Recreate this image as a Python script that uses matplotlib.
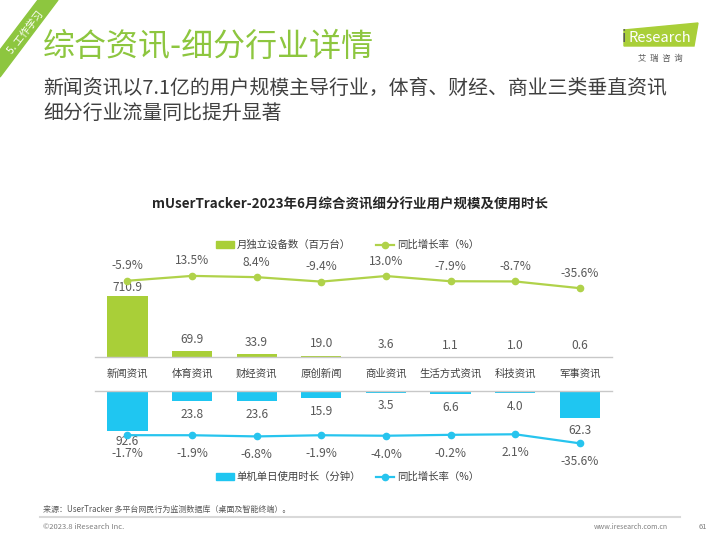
import matplotlib
matplotlib.use("Agg")
import matplotlib.pyplot as plt
from matplotlib.patches import Patch, Polygon
from matplotlib.lines import Line2D

plt.rcParams['font.family'] = ['Noto Sans CJK SC', 'DejaVu Sans']

# data
categories = ['新闻资讯', '体育资讯', '财经资讯', '原创新闻', '商业资讯', '生活方式资讯', '科技资讯', '军事资讯']
users = [710.9, 69.9, 33.9, 19.0, 3.6, 1.1, 1.0, 0.6]
users_yoy = [-5.9, 13.5, 8.4, -9.4, 13.0, -7.9, -8.7, -35.6]
minutes = [92.6, 23.8, 23.6, 15.9, 3.5, 6.6, 4.0, 62.3]
minutes_yoy = [-1.7, -1.9, -6.8, -1.9, -4.0, -0.2, 2.1, -35.6]

GREEN = '#A9CF38'
GREEN_LINE = '#B0D24A'
BLUE = '#1FC6F1'
BLUE_LINE = '#27C4EE'
GRAY = '#595959'
AXIS = '#C8C8C8'

W, H = 720, 540
fig = plt.figure(figsize=(7.2, 5.4), dpi=100)


def fx(px):
    return px / W


def fy(py):
    return 1 - py / H


x = list(range(len(categories)))
px2pt = 0.72
NUM_FS = 8.6

# ---- top panel: users ----
ax = fig.add_axes([fx(95.2), fy(357.3), fx(612 - 95.2), 107.3 / H])
ax.bar(x, users, width=0.62, color=GREEN)
ax.set_xlim(-0.5, 7.5)
ax.set_ylim(0, 1244)
for s in ['top', 'left', 'right']:
    ax.spines[s].set_visible(False)
ax.spines['bottom'].set_color(AXIS)
ax.spines['bottom'].set_linewidth(1)
ax.set_yticks([])
ax.set_xticks(x)
ax.set_xticklabels(categories, fontsize=7.5, color='#404040')
ax.tick_params(axis='x', length=0, pad=8.5)
for i, v in enumerate(users):
    off = 8 if v > 500 else 12
    ax.annotate(f'{v:.1f}', (i, v), xytext=(0, off * px2pt), textcoords='offset points',
                ha='center', va='center', fontsize=NUM_FS, color=GRAY)

ax2 = ax.twinx()
ax2.plot(x, users_yoy, color=GREEN_LINE, lw=1.6, marker='o', ms=4.5)
ax2.set_ylim(-312, 117)
ax2.axis('off')
for i, v in enumerate(users_yoy):
    ax2.annotate(f'{v:.1f}%', (i, v), xytext=(0, 15 * px2pt), textcoords='offset points',
                 ha='center', va='center', fontsize=NUM_FS, color=GRAY)

# ---- bottom panel: minutes ----
bx = fig.add_axes([fx(95.2), fy(460), fx(612 - 95.2), 68.7 / H])
bx.bar(x, minutes, width=0.62, color=BLUE)
bx.set_xlim(-0.5, 7.5)
bx.set_ylim(161.5, 0)
for s in ['bottom', 'left', 'right']:
    bx.spines[s].set_visible(False)
bx.spines['top'].set_color(AXIS)
bx.spines['top'].set_linewidth(1)
bx.set_xticks([])
bx.set_yticks([])
for i, v in enumerate(minutes):
    off = 10.5 if v > 80 else 13
    bx.annotate(f'{v:.1f}', (i, v), xytext=(0, -off * px2pt), textcoords='offset points',
                ha='center', va='center', fontsize=NUM_FS, color=GRAY)

bx2 = bx.twinx()
bx2.plot(x, minutes_yoy, color=BLUE_LINE, lw=1.6, marker='o', ms=4.5)
bx2.set_ylim(-105, 181)
bx2.axis('off')
for i, v in enumerate(minutes_yoy):
    bx2.annotate(f'{v:.1f}%', (i, v), xytext=(0, -18.5 * px2pt), textcoords='offset points',
                 ha='center', va='center', fontsize=NUM_FS, color=GRAY)

# ---- legends ----
leg_kw = dict(loc='center left', frameon=False, borderpad=0, borderaxespad=0,
              handlelength=1.7, handletextpad=0.3, fontsize=7.5, labelcolor='#404040')
fig.legend(handles=[Patch(color=GREEN)], labels=['月独立设备数（百万台）'],
           bbox_to_anchor=(fx(216), fy(245)), **leg_kw)
fig.legend(handles=[Line2D([], [], color=GREEN_LINE, lw=1.6, marker='o', ms=4.5)],
           labels=['同比增长率（%）'], bbox_to_anchor=(fx(376), fy(245)), **leg_kw)
fig.legend(handles=[Patch(color=BLUE)], labels=['单机单日使用时长（分钟）'],
           bbox_to_anchor=(fx(216), fy(477)), **leg_kw)
fig.legend(handles=[Line2D([], [], color=BLUE_LINE, lw=1.6, marker='o', ms=4.5)],
           labels=['同比增长率（%）'], bbox_to_anchor=(fx(376), fy(477)), **leg_kw)

# ---- chart title ----
fig.text(fx(350), fy(205), 'mUserTracker-2023年6月综合资讯细分行业用户规模及使用时长',
         ha='center', va='center', fontsize=9.7, fontweight='bold', color='#262626')

# ---- page header ----
fig.patches.append(Polygon([(fx(38), fy(0)), (fx(58), fy(0)), (fx(0), fy(77)), (fx(0), fy(50))],
                           closed=True, transform=fig.transFigure, color='#8DC63F', zorder=0))
fig.text(fx(26), fy(32), '5. 工作学习', rotation=52, ha='center', va='center',
         fontsize=7.3, color='white')
fig.text(fx(43), fy(47), '综合资讯-细分行业详情', ha='left', va='center',
         fontsize=23, color='#8DC63F')
fig.text(fx(43), fy(88), '新闻资讯以7.1亿的用户规模主导行业，体育、财经、商业三类垂直资讯',
         ha='left', va='center', fontsize=14.3, color='#404040')
fig.text(fx(43), fy(113), '细分行业流量同比提升显著',
         ha='left', va='center', fontsize=14.3, color='#404040')

# logo
fig.patches.append(Polygon([(fx(624), fy(30)), (fx(698), fy(23)), (fx(694), fy(46)), (fx(624), fy(46))],
                           closed=True, transform=fig.transFigure, color='#A9CF38', zorder=0))
fig.text(fx(622), fy(38), 'i', ha='left', va='center', fontsize=12, color='#595959')
fig.text(fx(629), fy(38), 'Research', ha='left', va='center', fontsize=10.5, color='white')
fig.text(fx(660), fy(58), '艾  瑞  咨  询', ha='center', va='center', fontsize=6, color='#595959')

# footer
fig.text(fx(43), fy(509), '来源：UserTracker 多平台网民行为监测数据库（桌面及智能终端）。',
         ha='left', va='center', fontsize=5.8, color='#595959')
fig.add_artist(Line2D([fx(40), fx(680)], [fy(517), fy(517)], color='#D9D9D9', lw=1.5))
fig.text(fx(43), fy(527), '©2023.8 iResearch Inc.', ha='left', va='center', fontsize=5.5, color='#7F7F7F')
fig.text(fx(668), fy(527), 'www.iresearch.com.cn', ha='right', va='center', fontsize=5, color='#7F7F7F')
fig.text(fx(703), fy(527), '61', ha='center', va='center', fontsize=5.5, color='#7F7F7F')

fig.savefig('out.png', dpi=100)
